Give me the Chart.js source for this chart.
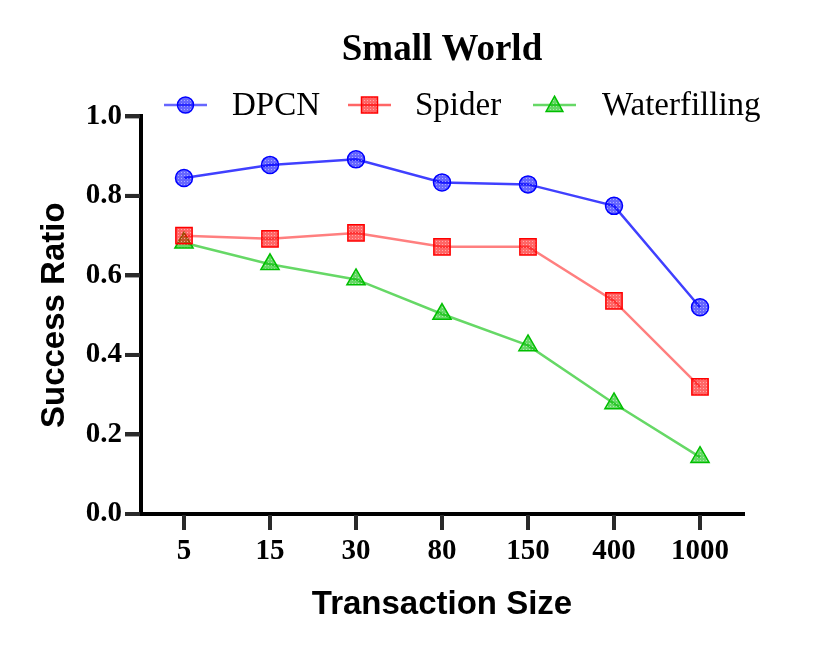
<!DOCTYPE html>
<html>
<head>
<meta charset="utf-8">
<script src="https://cdn.jsdelivr.net/npm/chart.js@4/dist/chart.umd.min.js"></script>
<style>
  html, body { margin: 0; padding: 0; background: #fff; }
  #wrap { position: relative; width: 831px; height: 650px; }
  #ticks { position: absolute; left: 0; top: 0; pointer-events: none; }
</style>
</head>
<body>
<div id="wrap">
  <canvas id="chart" width="831" height="650"></canvas>
  <canvas id="ticks" width="831" height="650"></canvas>
</div>
<script>
// Data
const sizes = ['5', '15', '30', '80', '150', '400', '1000'];
const dpcn = [0.845, 0.878, 0.892, 0.834, 0.829, 0.775, 0.52];
const spider = [0.70, 0.692, 0.707, 0.672, 0.672, 0.536, 0.32];
const waterfilling = [0.682, 0.628, 0.59, 0.503, 0.424, 0.278, 0.143];
const yTicks = [0, 0.2, 0.4, 0.6, 0.8, 1.0];

// Dotted fill used inside the markers
function dotPattern(rgb, alpha) {
  const c = document.createElement('canvas');
  c.width = 3;
  c.height = 3;
  const g = c.getContext('2d');
  g.fillStyle = 'rgba(' + rgb + ',' + alpha + ')';
  g.fillRect(0, 0, 3, 3);
  g.fillStyle = 'rgba(255,255,255,0.45)';
  g.fillRect(1, 1, 1, 1);
  return g.createPattern(c, 'repeat');
}

// Path of a legend marker
function markerPath(g, shape, x, y, r) {
  g.beginPath();
  if (shape == 'circle') {
    g.arc(x, y, r, 0, Math.PI * 2);
  }
  else if (shape == 'rect') {
    g.rect(x - r, y - r, r * 2, r * 2);
  }
  else {
    g.moveTo(x, y - r * 1.1);
    g.lineTo(x + r * 1.05, y + r * 0.8);
    g.lineTo(x - r * 1.05, y + r * 0.8);
    g.closePath();
  }
}

const series = [
  {label: 'DPCN', data: dpcn, rgb: '0,0,255', shape: 'circle', radius: 8.5, lineAlpha: 0.75},
  {label: 'Spider', data: spider, rgb: '255,0,0', shape: 'rect', radius: 11.5, lineAlpha: 0.5},
  {label: 'Waterfilling', data: waterfilling, rgb: '0,190,0', shape: 'triangle', radius: 10.5, lineAlpha: 0.6}
];

// Legend placement (symbol start, text start)
const legendY = 105;
const legendSym = [164, 348, 533];
const legendText = [232, 415, 602];
const tickColor = '#2a2a2a';

const datasets = series.map((s) => ({
  label: s.label,
  data: s.data,
  borderColor: 'rgba(' + s.rgb + ',' + s.lineAlpha + ')',
  borderWidth: 2.5,
  pointStyle: s.shape,
  pointRadius: s.radius,
  pointHoverRadius: s.radius,
  pointBackgroundColor: dotPattern(s.rgb, 0.6),
  pointBorderColor: 'rgba(' + s.rgb + ',1)',
  pointBorderWidth: 1.5,
  tension: 0,
  fill: false
}));

const serif = '"Liberation Serif", "Times New Roman", serif';
const sans = '"Liberation Sans", Arial, sans-serif';

// Tick marks (on the overlay canvas) and the line-and-marker legend
const extras = {
  id: 'extras',
  afterDraw: (chart) => {
    const xs = chart.scales.x;
    const ys = chart.scales.y;
    const tc = document.getElementById('ticks').getContext('2d');
    tc.clearRect(0, 0, 831, 650);
    tc.fillStyle = tickColor;
    sizes.forEach((s, i) => {
      const px = xs.getPixelForValue(i);
      tc.fillRect(px - 2, ys.bottom + 1, 4, 15);
    });
    yTicks.forEach((v) => {
      const py = ys.getPixelForValue(v);
      tc.fillRect(xs.left - 16, py - 2, 15, 4);
    });

    const ctx = chart.ctx;
    ctx.save();
    series.forEach((s, i) => {
      const x0 = legendSym[i];
      ctx.strokeStyle = 'rgba(' + s.rgb + ',0.6)';
      ctx.lineWidth = 2.5;
      ctx.beginPath();
      ctx.moveTo(x0, legendY);
      ctx.lineTo(x0 + 43, legendY);
      ctx.stroke();
      markerPath(ctx, s.shape, x0 + 21.5, legendY, 8);
      ctx.fillStyle = dotPattern(s.rgb, 0.6);
      ctx.fill();
      ctx.strokeStyle = 'rgba(' + s.rgb + ',1)';
      ctx.lineWidth = 1.5;
      ctx.stroke();
      ctx.fillStyle = '#000';
      ctx.font = '33px ' + serif;
      ctx.textBaseline = 'middle';
      ctx.textAlign = 'left';
      ctx.fillText(s.label, legendText[i], legendY + 1);
    });
    ctx.restore();
  }
};

new Chart(document.getElementById('chart'), {
  type: 'line',
  data: {labels: sizes, datasets: datasets},
  plugins: [extras],
  options: {
    responsive: false,
    animation: false,
    events: [],
    layout: {padding: {left: 35, right: 88, top: 0, bottom: 25}},
    plugins: {
      title: {
        display: true,
        fullSize: false,
        text: 'Small World',
        color: '#000',
        font: {family: serif, size: 37, weight: 'bold'},
        padding: {top: 28, bottom: 44}
      },
      legend: {display: false},
      tooltip: {enabled: false}
    },
    scales: {
      x: {
        type: 'category',
        offset: true,
        border: {display: true, color: '#000', width: 4},
        grid: {display: true, offset: false, drawOnChartArea: false, drawTicks: true, tickLength: 16, color: tickColor, lineWidth: 4},
        ticks: {color: '#000', font: {family: serif, size: 29, weight: 'bold'}, padding: 4, maxRotation: 0, autoSkip: false},
        title: {display: true, text: 'Transaction Size', color: '#000', font: {family: sans, size: 33, weight: 'bold'}, padding: {top: 10, bottom: 0}},
        afterFit: (scale) => { scale.height = 111; }
      },
      y: {
        min: 0,
        max: 1,
        afterBuildTicks: (scale) => { scale.ticks = yTicks.map((v) => ({value: v})); },
        border: {display: true, color: '#000', width: 4},
        grid: {display: true, drawOnChartArea: false, drawTicks: true, tickLength: 16, color: tickColor, lineWidth: 4},
        ticks: {color: '#000', font: {family: serif, size: 29, weight: 'bold'}, padding: 3, callback: (v) => Number(v).toFixed(1)},
        title: {display: true, text: 'Success Ratio', color: '#000', font: {family: sans, size: 33, weight: 'bold'}, padding: {top: 0, bottom: 10}},
        afterFit: (scale) => { scale.width = 106; }
      }
    }
  }
});
</script>
</body>
</html>
